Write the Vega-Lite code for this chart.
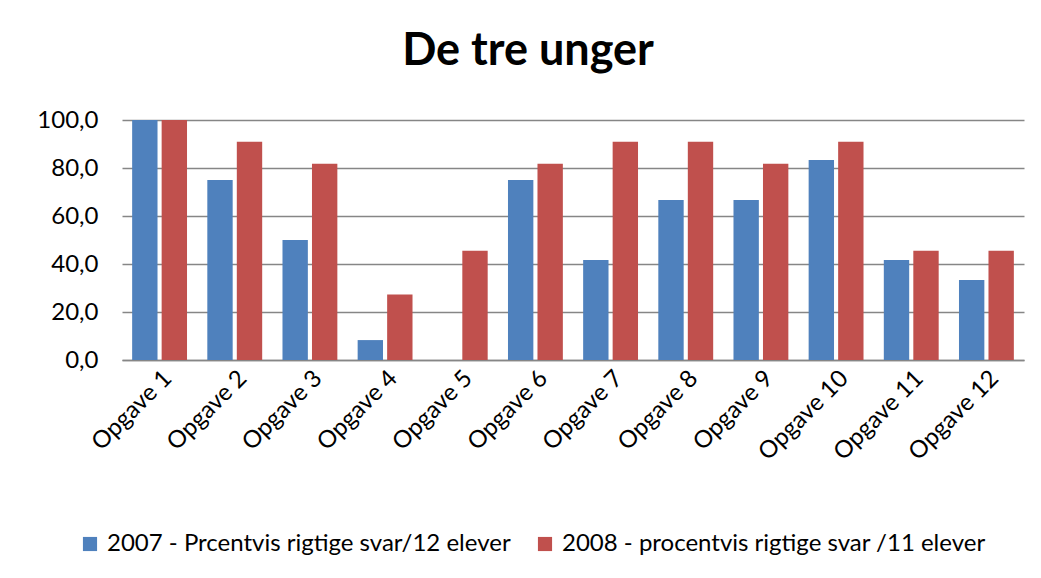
{
  "$schema": "https://vega.github.io/schema/vega-lite/v6.json",
  "autosize": {"type": "none"},
  "padding": {"left": 122, "top": 120, "right": 17, "bottom": 218},
  "width": 902,
  "height": 240,
  "background": "white",
  "config": {
    "locale": {"number": {"decimal": ",", "thousands": ".", "grouping": [3], "currency": ["", " kr"]}},
    "font": "Lato",
    "view": {"stroke": null}
  },
  "title": {"text": "De tre unger", "fontSize": 45, "fontWeight": "bold", "font": "Lato", "color": "black", "anchor": "middle", "offset": 34, "dx": -45},
  "data": {
    "values": [
      {"opgave": "Opgave 1", "serie": "2007 - Prcentvis rigtige svar/12 elever", "pct": 100},
      {"opgave": "Opgave 1", "serie": "2008 - procentvis rigtige svar /11 elever", "pct": 100},
      {"opgave": "Opgave 2", "serie": "2007 - Prcentvis rigtige svar/12 elever", "pct": 75},
      {"opgave": "Opgave 2", "serie": "2008 - procentvis rigtige svar /11 elever", "pct": 90.9},
      {"opgave": "Opgave 3", "serie": "2007 - Prcentvis rigtige svar/12 elever", "pct": 50},
      {"opgave": "Opgave 3", "serie": "2008 - procentvis rigtige svar /11 elever", "pct": 81.8},
      {"opgave": "Opgave 4", "serie": "2007 - Prcentvis rigtige svar/12 elever", "pct": 8.3},
      {"opgave": "Opgave 4", "serie": "2008 - procentvis rigtige svar /11 elever", "pct": 27.3},
      {"opgave": "Opgave 5", "serie": "2007 - Prcentvis rigtige svar/12 elever", "pct": 0},
      {"opgave": "Opgave 5", "serie": "2008 - procentvis rigtige svar /11 elever", "pct": 45.5},
      {"opgave": "Opgave 6", "serie": "2007 - Prcentvis rigtige svar/12 elever", "pct": 75},
      {"opgave": "Opgave 6", "serie": "2008 - procentvis rigtige svar /11 elever", "pct": 81.8},
      {"opgave": "Opgave 7", "serie": "2007 - Prcentvis rigtige svar/12 elever", "pct": 41.7},
      {"opgave": "Opgave 7", "serie": "2008 - procentvis rigtige svar /11 elever", "pct": 90.9},
      {"opgave": "Opgave 8", "serie": "2007 - Prcentvis rigtige svar/12 elever", "pct": 66.7},
      {"opgave": "Opgave 8", "serie": "2008 - procentvis rigtige svar /11 elever", "pct": 90.9},
      {"opgave": "Opgave 9", "serie": "2007 - Prcentvis rigtige svar/12 elever", "pct": 66.7},
      {"opgave": "Opgave 9", "serie": "2008 - procentvis rigtige svar /11 elever", "pct": 81.8},
      {"opgave": "Opgave 10", "serie": "2007 - Prcentvis rigtige svar/12 elever", "pct": 83.3},
      {"opgave": "Opgave 10", "serie": "2008 - procentvis rigtige svar /11 elever", "pct": 90.9},
      {"opgave": "Opgave 11", "serie": "2007 - Prcentvis rigtige svar/12 elever", "pct": 41.7},
      {"opgave": "Opgave 11", "serie": "2008 - procentvis rigtige svar /11 elever", "pct": 45.5},
      {"opgave": "Opgave 12", "serie": "2007 - Prcentvis rigtige svar/12 elever", "pct": 33.3},
      {"opgave": "Opgave 12", "serie": "2008 - procentvis rigtige svar /11 elever", "pct": 45.5}
    ]
  },
  "mark": {"type": "bar"},
  "encoding": {
    "x": {
      "field": "opgave", "type": "nominal", "sort": null, "title": null,
      "scale": {"paddingInner": 0.27, "paddingOuter": 0.135},
      "axis": {"labelAngle": -45, "labelFontSize": 24, "labelColor": "black", "ticks": false, "domainColor": "#868686", "domainWidth": 1.5, "labelPadding": 6}
    },
    "xOffset": {"field": "serie", "type": "nominal", "scale": {"paddingInner": 0.14}},
    "y": {
      "field": "pct", "type": "quantitative", "title": null,
      "scale": {"domain": [0, 100]},
      "axis": {"values": [0, 20, 40, 60, 80, 100], "format": ".1f", "labelFontSize": 24, "labelColor": "black", "ticks": false, "domain": false, "gridColor": "#868686", "gridWidth": 1.5, "labelPadding": 24}
    },
    "color": {
      "field": "serie", "type": "nominal", "title": null,
      "scale": {"range": ["#4F81BD", "#C0504D"]},
      "legend": {"orient": "none", "legendX": -44, "legendY": 412, "direction": "horizontal", "symbolType": "square", "symbolSize": 200, "symbolStrokeWidth": 0, "labelFontSize": 24, "labelColor": "black", "labelLimit": 600, "columnPadding": 22, "labelOffset": 5}
    }
  }
}
